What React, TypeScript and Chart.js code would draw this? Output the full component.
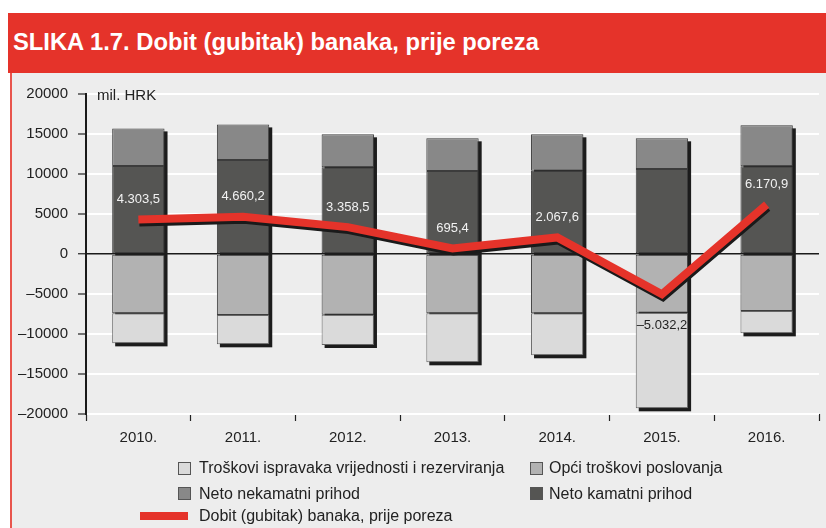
import React, { useEffect, useRef } from "react";
import { Chart, registerables } from "chart.js";

Chart.register(...registerables);

const years = ["2010.", "2011.", "2012.", "2013.", "2014.", "2015.", "2016."];
const netoKamatni = [11000, 11750, 10830, 10380, 10410, 10620, 10960];
const netoNekamatni = [4700, 4450, 4130, 4080, 4550, 3840, 5120];
const opciTroskovi = [-7420, -7625, -7580, -7420, -7420, -7330, -7125];
const troskoviIspravaka = [-3750, -3665, -3795, -6120, -5240, -11960, -2795];
const dobit = [4303.5, 4660.2, 3358.5, 695.4, 2067.6, -5032.2, 6170.9];

const yTicks = [-20000, -15000, -10000, -5000, 0, 5000, 10000, 15000, 20000];

const C_ISPR = "#dadada";
const C_OPCI = "#b2b2b2";
const C_NEKAM = "#888888";
const C_KAM = "#555553";
const C_RED = "#e5332a";

const FONT = "'Liberation Sans', Arial, Helvetica, sans-serif";

function fmt(v: number): string {
  const neg = v < 0;
  const a = Math.abs(v);
  const [ip, dp] = a.toFixed(1).split(".");
  const ints = ip.replace(/\B(?=(\d{3})+(?!\d))/g, ".");
  return (neg ? "\u2013" : "") + ints + "," + dp;
}

const shadowPlugin = {
  id: "barShadow",
  beforeDatasetsDraw(chart: any) {
    const ctx = chart.ctx;
    const top = chart.getDatasetMeta(1);
    const bot = chart.getDatasetMeta(3);
    ctx.save();
    ctx.fillStyle = "#1c1c1c";
    top.data.forEach((el: any, i: number) => {
      const b = bot.data[i];
      const w = el.width;
      ctx.fillRect(el.x - w / 2 + 3, el.y + 3, w, b.y - el.y);
    });
    ctx.restore();
  },
  beforeDatasetDraw(chart: any, args: any) {
    if (args.index === 4) {
      const ctx = chart.ctx;
      ctx.save();
      ctx.shadowColor = "#1a1a1a";
      ctx.shadowOffsetX = 1;
      ctx.shadowOffsetY = 3;
      ctx.shadowBlur = 0;
    }
  },
  afterDatasetDraw(chart: any, args: any) {
    if (args.index === 4) {
      chart.ctx.restore();
    }
  },
  afterDatasetsDraw(chart: any) {
    const ctx = chart.ctx;
    const meta = chart.getDatasetMeta(4);
    ctx.save();
    ctx.font = `13px ${FONT}`;
    ctx.textAlign = "center";
    ctx.textBaseline = "middle";
    meta.data.forEach((pt: any, i: number) => {
      const v = dobit[i];
      if (v < 0) {
        ctx.fillStyle = "#222222";
        ctx.fillText(fmt(v), pt.x, pt.y + 31);
      } else {
        ctx.fillStyle = "#f2f2f2";
        ctx.fillText(fmt(v), pt.x, pt.y - 20);
      }
    });
    ctx.restore();
  },
};

export default function App() {
  const ref = useRef<HTMLCanvasElement | null>(null);

  useEffect(() => {
    if (!ref.current) return;
    const barCommon = {
      type: "bar" as const,
      borderColor: "#3c3c3c",
      borderWidth: 1,
      borderSkipped: false,
      barPercentage: 0.5,
      categoryPercentage: 1,
      stack: "bars",
      order: 1,
    };
    const chart = new Chart(ref.current, {
      type: "bar",
      data: {
        labels: years,
        datasets: [
          { ...barCommon, label: "Neto kamatni prihod", data: netoKamatni, backgroundColor: C_KAM },
          { ...barCommon, label: "Neto nekamatni prihod", data: netoNekamatni, backgroundColor: C_NEKAM },
          { ...barCommon, label: "Opći troškovi poslovanja", data: opciTroskovi, backgroundColor: C_OPCI },
          { ...barCommon, label: "Troškovi ispravaka vrijednosti i rezerviranja", data: troskoviIspravaka, backgroundColor: C_ISPR, borderColor: "#666666" },
          {
            type: "line" as const,
            label: "Dobit (gubitak) banaka, prije poreza",
            data: dobit,
            borderColor: C_RED,
            backgroundColor: C_RED,
            borderWidth: 8,
            pointRadius: 0,
            tension: 0,
            borderJoinStyle: "miter",
            borderCapStyle: "butt",
            stack: "line",
            order: 0,
          } as any,
        ],
      },
      options: {
        responsive: false,
        animation: false,
        devicePixelRatio: 1,
        layout: { padding: { left: 10, right: 7, top: 94, bottom: 0 } },
        plugins: { legend: { display: false }, tooltip: { enabled: false } },
        scales: {
          x: {
            stacked: true,
            offset: true,
            grid: {
              offset: true,
              drawOnChartArea: false,
              drawTicks: true,
              tickLength: 7,
              tickColor: "#222222",
              tickWidth: 1.2,
            },
            border: { display: false },
            ticks: {
              color: "#222222",
              font: { family: FONT, size: 15 },
              padding: 8,
              maxRotation: 0,
            },
            afterFit: (s: any) => {
              s.height = 114;
            },
          },
          y: {
            stacked: true,
            min: -20000,
            max: 20000,
            afterBuildTicks: (s: any) => {
              s.ticks = yTicks.map((v) => ({ value: v }));
            },
            grid: {
              color: (c: any) => (c.tick && c.tick.value === 0 ? "#1a1a1a" : "#ffffff"),
              lineWidth: (c: any) => (c.tick && c.tick.value === 0 ? 1.5 : 2),
              tickColor: "#222222",
              tickLength: 8,
              tickWidth: 1.2,
            },
            border: { display: true, color: "#1a1a1a", width: 2 },
            ticks: {
              color: "#222222",
              font: { family: FONT, size: 15 },
              padding: 10,
              callback: (v: any) => (Number(v) < 0 ? "\u2013" + Math.abs(Number(v)) : String(v)),
            },
            afterFit: (s: any) => {
              s.width = 76;
            },
          },
        },
      },
      plugins: [shadowPlugin],
    });
    return () => chart.destroy();
  }, []);

  const sq = (bg: string, left: number, top: number) => (
    <div
      style={{
        position: "absolute",
        left,
        top,
        width: 11,
        height: 11,
        background: bg,
        border: "1px solid #555",
      }}
    />
  );
  const txt = (t: string, left: number, top: number) => (
    <div
      style={{
        position: "absolute",
        left,
        top,
        fontFamily: FONT,
        fontSize: 16,
        lineHeight: "18px",
        color: "#222",
        whiteSpace: "nowrap",
      }}
    >
      {t}
    </div>
  );

  return (
    <div style={{ position: "absolute", left: 0, top: 0, width: 826, height: 528, background: "#ffffff", overflow: "hidden" }}>
      <div style={{ position: "absolute", left: 8, top: 13, width: 818, height: 60, background: C_RED }} />
      <div style={{ position: "absolute", left: 10, top: 73, width: 816, height: 455, background: "#ededed", borderLeft: "2px solid #e8554d" }} />
      <div
        style={{
          position: "absolute",
          left: 13,
          top: 30,
          fontFamily: FONT,
          fontWeight: "bold",
          fontSize: 24,
          lineHeight: "24px",
          color: "#ffffff",
          whiteSpace: "nowrap",
          transform: "scaleX(0.99)",
          transformOrigin: "left top",
        }}
      >
        SLIKA 1.7. Dobit (gubitak) banaka, prije poreza
      </div>
      <canvas ref={ref} width={826} height={528} style={{ position: "absolute", left: 0, top: 0, width: 826, height: 528 }} />
      <div
        style={{
          position: "absolute",
          left: 97,
          top: 86,
          fontFamily: FONT,
          fontSize: 15,
          lineHeight: "18px",
          color: "#222",
          whiteSpace: "nowrap",
        }}
      >
        mil. HRK
      </div>
      {sq(C_ISPR, 178, 462)}
      {txt("Troškovi ispravaka vrijednosti i rezerviranja", 199, 459)}
      {sq(C_OPCI, 530, 462)}
      {txt("Opći troškovi poslovanja", 549, 459)}
      {sq(C_NEKAM, 178, 487)}
      {txt("Neto nekamatni prihod", 199, 485)}
      {sq(C_KAM, 530, 487)}
      {txt("Neto kamatni prihod", 549, 485)}
      <div style={{ position: "absolute", left: 140, top: 512, width: 48, height: 8, background: C_RED }} />
      {txt("Dobit (gubitak) banaka, prije poreza", 199, 507)}
    </div>
  );
}
